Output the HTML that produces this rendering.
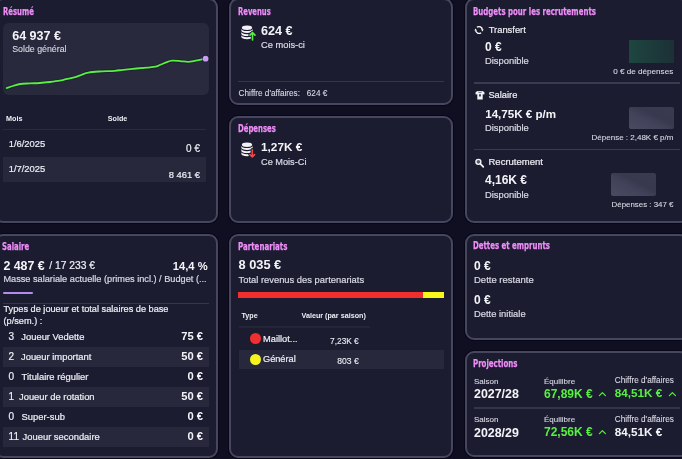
<!DOCTYPE html>
<html><head><meta charset="utf-8"><title>Dashboard</title>
<style>
html,body{margin:0;padding:0;width:682px;height:459px;overflow:hidden;background:#0f0f21;}
body{position:relative;font-family:"Liberation Sans",Arial,sans-serif;}
.c{position:absolute;box-sizing:border-box;background:#1c1c31;border:2px solid #46465e;border-radius:9px;box-shadow:0 0 0 1px #070718;}
.t{position:absolute;white-space:nowrap;line-height:1;}
.n{-webkit-text-stroke:0.2px currentColor;}
.ns{-webkit-text-stroke:0.1px currentColor;}
.ti{color:#f08ef9;font-weight:700;font-family:"DejaVu Sans","Liberation Sans",sans-serif;transform-origin:0 0;-webkit-text-stroke:0.25px #f08ef9;}
.r{position:absolute;}
.s{position:absolute;overflow:visible;}
</style></head><body>
<div class="c" style="left:-6.30px;top:-1.80px;width:224.00px;height:224.80px"></div>
<div class="c" style="left:229.30px;top:-1.80px;width:224.00px;height:106.60px"></div>
<div class="c" style="left:229.30px;top:116.40px;width:224.00px;height:106.60px"></div>
<div class="c" style="left:464.50px;top:-1.80px;width:224.00px;height:224.80px"></div>
<div class="c" style="left:-6.30px;top:233.60px;width:224.00px;height:224.00px"></div>
<div class="c" style="left:229.30px;top:233.60px;width:224.00px;height:224.00px"></div>
<div class="c" style="left:464.50px;top:233.60px;width:224.00px;height:106.60px"></div>
<div class="c" style="left:464.50px;top:350.90px;width:224.00px;height:106.60px"></div>
<div class="t ti" style="left:2.70px;top:7.10px;font-size:10px;transform:scaleX(0.6900)">Résumé</div>
<div class="r" style="left:3.00px;top:23.00px;width:205.70px;height:71.80px;background:#28283d;border-radius:6px;background:linear-gradient(170deg,#28283d 0%,#2a2a3f 100%)"></div>
<div class="t" style="left:12.20px;top:29.85px;font-size:12.5px;font-weight:700;color:#f4f4f8;">64 937 €</div>
<div class="t ns" style="left:12.20px;top:45.20px;font-size:8.8px;font-weight:400;color:#dadae6;">Solde général</div>
<svg class="s" width="682" height="459" style="left:0;top:0"><path d="M6.6,88 C7.67,87.67 10.73,86.67 13,86 C15.27,85.33 17.37,84.43 20.2,84 C23.03,83.57 26.77,83.57 30,83.4 C33.23,83.23 36.27,83.23 39.6,83 C42.93,82.77 46.63,82.38 50,82 C53.37,81.62 57.13,81.17 59.8,80.7 C62.47,80.23 63.58,79.75 66,79.2 C68.42,78.65 71.73,78.13 74.3,77.4 C76.87,76.67 79.05,75.60 81.4,74.8 C83.75,74.00 85.47,73.15 88.4,72.6 C91.33,72.05 94.60,71.80 99,71.5 C103.40,71.20 110.77,71.08 114.8,70.8 C118.83,70.52 119.60,70.18 123.2,69.8 C126.80,69.42 132.45,68.87 136.4,68.5 C140.35,68.13 143.68,67.90 146.9,67.6 C150.12,67.30 153.35,67.22 155.7,66.7 C158.05,66.18 159.23,65.23 161,64.5 C162.77,63.77 164.45,62.93 166.3,62.3 C168.15,61.67 169.78,60.90 172.1,60.7 C174.42,60.50 177.52,60.90 180.2,61.1 C182.88,61.30 185.65,61.97 188.2,61.9 C190.75,61.83 193.22,61.12 195.5,60.7 C197.78,60.28 200.22,59.73 201.9,59.4 C203.58,59.07 204.98,58.82 205.6,58.7" fill="none" stroke="#15152a" stroke-opacity="0.55" stroke-width="3.6" stroke-linejoin="round" stroke-linecap="round"/><path d="M6.6,88 C7.67,87.67 10.73,86.67 13,86 C15.27,85.33 17.37,84.43 20.2,84 C23.03,83.57 26.77,83.57 30,83.4 C33.23,83.23 36.27,83.23 39.6,83 C42.93,82.77 46.63,82.38 50,82 C53.37,81.62 57.13,81.17 59.8,80.7 C62.47,80.23 63.58,79.75 66,79.2 C68.42,78.65 71.73,78.13 74.3,77.4 C76.87,76.67 79.05,75.60 81.4,74.8 C83.75,74.00 85.47,73.15 88.4,72.6 C91.33,72.05 94.60,71.80 99,71.5 C103.40,71.20 110.77,71.08 114.8,70.8 C118.83,70.52 119.60,70.18 123.2,69.8 C126.80,69.42 132.45,68.87 136.4,68.5 C140.35,68.13 143.68,67.90 146.9,67.6 C150.12,67.30 153.35,67.22 155.7,66.7 C158.05,66.18 159.23,65.23 161,64.5 C162.77,63.77 164.45,62.93 166.3,62.3 C168.15,61.67 169.78,60.90 172.1,60.7 C174.42,60.50 177.52,60.90 180.2,61.1 C182.88,61.30 185.65,61.97 188.2,61.9 C190.75,61.83 193.22,61.12 195.5,60.7 C197.78,60.28 200.22,59.73 201.9,59.4 C203.58,59.07 204.98,58.82 205.6,58.7" fill="none" stroke="#58f040" stroke-width="1.8" stroke-linejoin="round" stroke-linecap="round"/><circle cx="205.6" cy="58.7" r="3.6" fill="#15152a" fill-opacity="0.6"/><circle cx="205.6" cy="58.7" r="2.9" fill="#c99cf7"/></svg>
<div class="t" style="left:6.10px;top:114.60px;font-size:7.2px;font-weight:700;color:#eeeef5;">Mois</div>
<div class="t" style="left:107.80px;top:114.60px;font-size:7.2px;font-weight:700;color:#eeeef5;">Solde</div>
<div class="r" style="left:3.00px;top:128.95px;width:203.00px;height:1.30px;background:#2a2a40;"></div>
<div class="t n" style="left:8.70px;top:139.00px;font-size:9.4px;font-weight:400;color:#eeeef5;">1/6/2025</div>
<div class="t n" style="right:482.00px;top:144.30px;font-size:10px;font-weight:400;color:#eeeef5;">0 €</div>
<div class="r" style="left:3.00px;top:157.20px;width:203.00px;height:24.70px;background:#28283d;"></div>
<div class="t n" style="left:8.70px;top:164.40px;font-size:9.4px;font-weight:400;color:#eeeef5;">1/7/2025</div>
<div class="t n" style="right:482.00px;top:169.90px;font-size:9.4px;font-weight:400;color:#eeeef5;">8 461 €</div>
<div class="t ti" style="left:237.70px;top:6.80px;font-size:10px;transform:scaleX(0.6820)">Revenus</div>
<div class="t" style="left:261.00px;top:24.60px;font-size:12.6px;font-weight:700;color:#f4f4f8;">624 €</div>
<div class="t n" style="left:261.00px;top:40.65px;font-size:9.3px;font-weight:400;color:#dadae6;">Ce mois-ci</div>
<div class="r" style="left:238.20px;top:80.80px;width:205.80px;height:1.60px;background:#35354b;"></div>
<div class="t ns" style="left:238.60px;top:89.80px;font-size:8.2px;font-weight:400;color:#dadae6;">Chiffre d'affaires:</div>
<div class="t ns" style="left:306.80px;top:89.80px;font-size:8.2px;font-weight:400;color:#dadae6;">624 €</div>
<div class="t ti" style="left:237.70px;top:124.40px;font-size:10px;transform:scaleX(0.6910)">Dépenses</div>
<div class="t" style="left:261.00px;top:141.90px;font-size:11.8px;font-weight:700;color:#f4f4f8;">1,27K €</div>
<div class="t n" style="left:261.00px;top:157.90px;font-size:9.2px;font-weight:400;color:#dadae6;">Ce Mois-Ci</div>
<div class="t ti" style="left:473.20px;top:6.60px;font-size:10px;transform:scaleX(0.7000)">Budgets pour les recrutements</div>
<div class="t n" style="left:488.70px;top:24.50px;font-size:9.4px;font-weight:400;color:#eeeef5;">Transfert</div>
<div class="t" style="left:485.00px;top:41.00px;font-size:12px;font-weight:700;color:#f4f4f8;">0 €</div>
<div class="t n" style="left:485.00px;top:55.50px;font-size:9.4px;font-weight:400;color:#dadae6;">Disponible</div>
<div class="r" style="left:629.00px;top:39.50px;width:44.70px;height:23.00px;background:#1d3b3a;background:linear-gradient(90deg,#1e4640,#1c3036)"></div>
<div class="t ns" style="right:8.80px;top:67.65px;font-size:8.1px;font-weight:400;color:#dadae6;">0 € de dépenses</div>
<div class="r" style="left:474.00px;top:82.30px;width:205.50px;height:1.60px;background:#3a3a52;"></div>
<div class="t n" style="left:488.40px;top:91.35px;font-size:9.3px;font-weight:400;color:#eeeef5;">Salaire</div>
<div class="t" style="left:485.20px;top:107.90px;font-size:11.6px;font-weight:700;color:#f4f4f8;">14,75K € p/m</div>
<div class="t n" style="left:485.00px;top:123.10px;font-size:9.4px;font-weight:400;color:#dadae6;">Disponible</div>
<div class="r" style="left:629.20px;top:106.80px;width:44.40px;height:22.20px;background:#3e3e55;background:linear-gradient(to top right,#4a4a61 0%,#42425a 40%,#38384e 60%,#3a3a50 100%);border-radius:2px"></div>
<div class="t ns" style="right:8.60px;top:133.50px;font-size:8px;font-weight:400;color:#dadae6;">Dépense : 2,48K € p/m</div>
<div class="r" style="left:474.00px;top:148.70px;width:205.50px;height:1.60px;background:#3a3a52;"></div>
<div class="t n" style="left:488.50px;top:156.75px;font-size:9.5px;font-weight:400;color:#eeeef5;">Recrutement</div>
<div class="t" style="left:485.00px;top:174.20px;font-size:12px;font-weight:700;color:#f4f4f8;">4,16K €</div>
<div class="t n" style="left:485.00px;top:189.60px;font-size:9.4px;font-weight:400;color:#dadae6;">Disponible</div>
<div class="r" style="left:610.90px;top:173.00px;width:44.90px;height:22.70px;background:#3e3e55;background:linear-gradient(to top right,#4a4a61 0%,#42425a 40%,#38384e 60%,#3a3a50 100%);border-radius:2px"></div>
<div class="t ns" style="right:8.60px;top:200.55px;font-size:7.9px;font-weight:400;color:#dadae6;">Dépenses : 347 €</div>
<div class="t ti" style="left:2.30px;top:241.70px;font-size:10px;transform:scaleX(0.6930)">Salaire</div>
<div class="t" style="left:3.40px;top:259.60px;font-size:12.4px;font-weight:700;color:#f4f4f8;">2 487 €</div>
<div class="t n" style="left:49.30px;top:261.15px;font-size:10.3px;font-weight:400;color:#eeeef5;">/ 17 233 €</div>
<div class="t" style="right:474.40px;top:260.60px;font-size:11.2px;font-weight:700;color:#f4f4f8;">14,4 %</div>
<div class="t n" style="left:3.40px;top:275.40px;font-size:9.2px;font-weight:400;color:#dadae6;">Masse salariale actuelle (primes incl.) / Budget (...</div>
<div class="r" style="left:3.00px;top:291.50px;width:29.70px;height:2.00px;background:#b48cf0;border-radius:1px"></div>
<div class="r" style="left:3.00px;top:302.85px;width:205.70px;height:1.30px;background:#35354b;"></div>
<div class="t n" style="left:3.50px;top:304.80px;font-size:9.2px;font-weight:400;color:#eeeef5;">Types de joueur et total salaires de base</div>
<div class="t n" style="left:3.50px;top:317.00px;font-size:9.2px;font-weight:400;color:#eeeef5;">(p/sem.) :</div>
<div class="t n" style="left:8.60px;top:331.80px;font-size:10px;font-weight:400;color:#eeeef5;">3</div>
<div class="t n" style="left:21.30px;top:332.10px;font-size:9.4px;font-weight:400;color:#eeeef5;">Joueur Vedette</div>
<div class="t" style="right:479.00px;top:331.30px;font-size:11.2px;font-weight:700;color:#f4f4f8;">75 €</div>
<div class="r" style="left:3.00px;top:347.00px;width:206.00px;height:19.60px;background:#28283d;"></div>
<div class="t n" style="left:8.60px;top:351.80px;font-size:10px;font-weight:400;color:#eeeef5;">2</div>
<div class="t n" style="left:21.00px;top:352.10px;font-size:9.4px;font-weight:400;color:#eeeef5;">Joueur important</div>
<div class="t" style="right:479.00px;top:351.30px;font-size:11.2px;font-weight:700;color:#f4f4f8;">50 €</div>
<div class="t n" style="left:8.60px;top:371.80px;font-size:10px;font-weight:400;color:#eeeef5;">0</div>
<div class="t n" style="left:21.60px;top:372.10px;font-size:9.4px;font-weight:400;color:#eeeef5;">Titulaire régulier</div>
<div class="t" style="right:479.00px;top:371.30px;font-size:11.2px;font-weight:700;color:#f4f4f8;">0 €</div>
<div class="r" style="left:3.00px;top:387.00px;width:206.00px;height:19.60px;background:#28283d;"></div>
<div class="t n" style="left:8.60px;top:391.80px;font-size:10px;font-weight:400;color:#eeeef5;">1</div>
<div class="t n" style="left:19.00px;top:392.10px;font-size:9.4px;font-weight:400;color:#eeeef5;">Joueur de rotation</div>
<div class="t" style="right:479.00px;top:391.30px;font-size:11.2px;font-weight:700;color:#f4f4f8;">50 €</div>
<div class="t n" style="left:8.60px;top:411.80px;font-size:10px;font-weight:400;color:#eeeef5;">0</div>
<div class="t n" style="left:21.60px;top:412.10px;font-size:9.4px;font-weight:400;color:#eeeef5;">Super-sub</div>
<div class="t" style="right:479.00px;top:411.30px;font-size:11.2px;font-weight:700;color:#f4f4f8;">0 €</div>
<div class="r" style="left:3.00px;top:427.00px;width:206.00px;height:19.60px;background:#28283d;"></div>
<div class="t n" style="left:8.60px;top:431.80px;font-size:10px;font-weight:400;color:#eeeef5;">11</div>
<div class="t n" style="left:22.60px;top:432.10px;font-size:9.4px;font-weight:400;color:#eeeef5;">Joueur secondaire</div>
<div class="t" style="right:479.00px;top:431.30px;font-size:11.2px;font-weight:700;color:#f4f4f8;">0 €</div>
<div class="t ti" style="left:237.70px;top:241.70px;font-size:10px;transform:scaleX(0.7060)">Partenariats</div>
<div class="t" style="left:238.50px;top:259.00px;font-size:12.8px;font-weight:700;color:#f4f4f8;">8 035 €</div>
<div class="t n" style="left:238.50px;top:274.80px;font-size:9.4px;font-weight:400;color:#dadae6;">Total revenus des partenariats</div>
<div class="r" style="left:238.20px;top:292.00px;width:184.80px;height:5.90px;background:#ef2e2e;"></div>
<div class="r" style="left:423.00px;top:292.00px;width:21.00px;height:5.90px;background:#f7f71a;"></div>
<div class="t" style="left:241.40px;top:311.90px;font-size:7.2px;font-weight:700;color:#eeeef5;">Type</div>
<div class="t" style="left:301.50px;top:311.90px;font-size:7.2px;font-weight:700;color:#eeeef5;">Valeur (par saison)</div>
<div class="r" style="left:238.80px;top:325.90px;width:131.10px;height:1.80px;background:#25253a;"></div>
<div class="r" style="left:249.8px;top:333px;width:11px;height:11px;border-radius:50%;background:#ee3030"></div>
<div class="t n" style="left:263.00px;top:335.25px;font-size:9.3px;font-weight:400;color:#eeeef5;">Maillot...</div>
<div class="t ns" style="right:323.30px;top:336.85px;font-size:8.3px;font-weight:400;color:#eeeef5;">7,23K €</div>
<div class="r" style="left:238.80px;top:349.50px;width:205.20px;height:19.10px;background:#28283d;"></div>
<div class="r" style="left:249.8px;top:353.5px;width:11px;height:11px;border-radius:50%;background:#f5f51c"></div>
<div class="t n" style="left:263.00px;top:354.60px;font-size:9.2px;font-weight:400;color:#eeeef5;">Général</div>
<div class="t ns" style="right:323.30px;top:356.90px;font-size:8.6px;font-weight:400;color:#eeeef5;">803 €</div>
<div class="t ti" style="left:473.20px;top:241.20px;font-size:10px;transform:scaleX(0.6980)">Dettes et emprunts</div>
<div class="t" style="left:474.00px;top:259.60px;font-size:12px;font-weight:700;color:#f4f4f8;">0 €</div>
<div class="t n" style="left:474.00px;top:275.05px;font-size:9.5px;font-weight:400;color:#dadae6;">Dette restante</div>
<div class="t" style="left:474.00px;top:293.50px;font-size:12px;font-weight:700;color:#f4f4f8;">0 €</div>
<div class="t n" style="left:474.00px;top:308.80px;font-size:9.4px;font-weight:400;color:#dadae6;">Dette initiale</div>
<div class="t ti" style="left:473.20px;top:359.20px;font-size:10px;transform:scaleX(0.7020)">Projections</div>
<div class="t ns" style="left:474.00px;top:377.50px;font-size:8px;font-weight:400;color:#dadae6;">Saison</div>
<div class="t" style="left:474.00px;top:388.00px;font-size:12.4px;font-weight:700;color:#f4f4f8;">2027/28</div>
<div class="t ns" style="left:544.00px;top:377.50px;font-size:8px;font-weight:400;color:#dadae6;">Équilibre</div>
<div class="t" style="left:544.00px;top:387.80px;font-size:12px;font-weight:700;color:#58f040;">67,89K €</div>
<div class="t ns" style="left:614.80px;top:377.40px;font-size:8.2px;font-weight:400;color:#dadae6;">Chiffre d'affaires</div>
<div class="t" style="left:614.80px;top:387.45px;font-size:11.7px;font-weight:700;color:#58f040;">84,51K €</div>
<div class="t ns" style="left:474.00px;top:416.00px;font-size:8px;font-weight:400;color:#dadae6;">Saison</div>
<div class="t" style="left:474.00px;top:426.50px;font-size:12.4px;font-weight:700;color:#f4f4f8;">2028/29</div>
<div class="t ns" style="left:544.00px;top:416.00px;font-size:8px;font-weight:400;color:#dadae6;">Équilibre</div>
<div class="t" style="left:544.00px;top:426.30px;font-size:12px;font-weight:700;color:#58f040;">72,56K €</div>
<div class="t ns" style="left:614.80px;top:415.90px;font-size:8.2px;font-weight:400;color:#dadae6;">Chiffre d'affaires</div>
<div class="t" style="left:614.80px;top:425.95px;font-size:11.7px;font-weight:700;color:#f4f4f8;">84,51K €</div>
<div class="r" style="left:474.00px;top:406.85px;width:206.00px;height:1.70px;background:#34344b;"></div>
<svg class="s" width="20" height="20" style="left:240.7px;top:24.8px" viewBox="0 0 20 20"><ellipse cx="6" cy="2.7" rx="5.1" ry="2.25" fill="#f2f2f6"/><path d="M0.3 3.6999999999999997 A5.7 2.4 0 0 0 11.7 3.6999999999999997 L11.7 5.6 A5.7 2.4 0 0 1 0.3 5.6 Z" fill="#f2f2f6"/><path d="M0.3 6.799999999999999 A5.7 2.4 0 0 0 11.7 6.799999999999999 L11.7 8.7 A5.7 2.4 0 0 1 0.3 8.7 Z" fill="#f2f2f6"/><path d="M0.3 9.9 A5.7 2.4 0 0 0 11.7 9.9 L11.7 11.8 A5.7 2.4 0 0 1 0.3 11.8 Z" fill="#f2f2f6"/><path d="M11.5 14.9 V7.6 M9 10.1 L11.5 7.5 L14 10.1" fill="none" stroke="#1c1c31" stroke-width="3.4" stroke-linecap="round" stroke-linejoin="round"/><path d="M11.5 14.9 V7.6 M9 10.1 L11.5 7.5 L14 10.1" fill="none" stroke="#55f040" stroke-width="1.6" stroke-linecap="round" stroke-linejoin="round"/></svg>
<svg class="s" width="20" height="20" style="left:240.7px;top:142.2px" viewBox="0 0 20 20"><ellipse cx="6" cy="2.7" rx="5.1" ry="2.25" fill="#f2f2f6"/><path d="M0.3 3.6999999999999997 A5.7 2.4 0 0 0 11.7 3.6999999999999997 L11.7 5.6 A5.7 2.4 0 0 1 0.3 5.6 Z" fill="#f2f2f6"/><path d="M0.3 6.799999999999999 A5.7 2.4 0 0 0 11.7 6.799999999999999 L11.7 8.7 A5.7 2.4 0 0 1 0.3 8.7 Z" fill="#f2f2f6"/><path d="M0.3 9.9 A5.7 2.4 0 0 0 11.7 9.9 L11.7 11.8 A5.7 2.4 0 0 1 0.3 11.8 Z" fill="#f2f2f6"/><path d="M11.3 7.7 V15 M9 12.6 L11.3 15 L13.6 12.6" fill="none" stroke="#1c1c31" stroke-width="3.4" stroke-linecap="round" stroke-linejoin="round"/><path d="M11.3 7.7 V15 M9 12.6 L11.3 15 L13.6 12.6" fill="none" stroke="#f04848" stroke-width="1.6" stroke-linecap="round" stroke-linejoin="round"/></svg>
<svg class="s" width="12" height="12" style="left:473.3px;top:23.8px" viewBox="0 0 12 12"><path d="M3.91 3.32 A3.4 3.4 0 0 1 9.39 5.70" fill="none" stroke="#fff" stroke-width="1.35"/><path d="M8.09 8.68 A3.4 3.4 0 0 1 2.61 6.30" fill="none" stroke="#fff" stroke-width="1.35"/><path d="M8.1 5.6 L10.7 5.6 L9.4 7.4 Z" fill="#fff"/><path d="M1.3 6.4 L3.9 6.4 L2.6 4.6 Z" fill="#fff"/></svg>
<svg class="s" width="12" height="12" style="left:473.8px;top:90.3px" viewBox="0 0 12 12"><path d="M3.9 1 L8.1 1 Q9.6 1.3 10.5 2.6 L10.4 4.5 L8.7 4.3 L8.7 9.5 L3.3 9.5 L3.3 4.3 L1.6 4.5 L1.5 2.6 Q2.4 1.3 3.9 1 Z" fill="#f4f4f8"/><path d="M4.2 2.0 Q6 2.9 7.8 2.0" fill="none" stroke="#2a2a3e" stroke-width="0.7"/><ellipse cx="6" cy="5.3" rx="0.8" ry="1.5" fill="#2a2a3e"/></svg>
<svg class="s" width="12" height="12" style="left:473.5px;top:156.5px" viewBox="0 0 12 12"><circle cx="4.4" cy="4.8" r="2.5" fill="#58586e" stroke="#f4f4f8" stroke-width="1.35"/><path d="M6.4 6.8 L9.3 9.8" stroke="#f4f4f8" stroke-width="1.7" stroke-linecap="round"/></svg>
<svg class="s" width="10" height="8" style="left:598.1px;top:391px" viewBox="0 0 10 8"><path d="M1.4 4.7 L4.4 1.7 L7.4 4.7" fill="none" stroke="#58f040" stroke-width="1.2" stroke-linecap="round" stroke-linejoin="round"/></svg>
<svg class="s" width="10" height="8" style="left:667.9px;top:391px" viewBox="0 0 10 8"><path d="M1.4 4.7 L4.4 1.7 L7.4 4.7" fill="none" stroke="#58f040" stroke-width="1.2" stroke-linecap="round" stroke-linejoin="round"/></svg>
<svg class="s" width="10" height="8" style="left:598.1px;top:429.3px" viewBox="0 0 10 8"><path d="M1.4 4.7 L4.4 1.7 L7.4 4.7" fill="none" stroke="#58f040" stroke-width="1.2" stroke-linecap="round" stroke-linejoin="round"/></svg>
</body></html>
